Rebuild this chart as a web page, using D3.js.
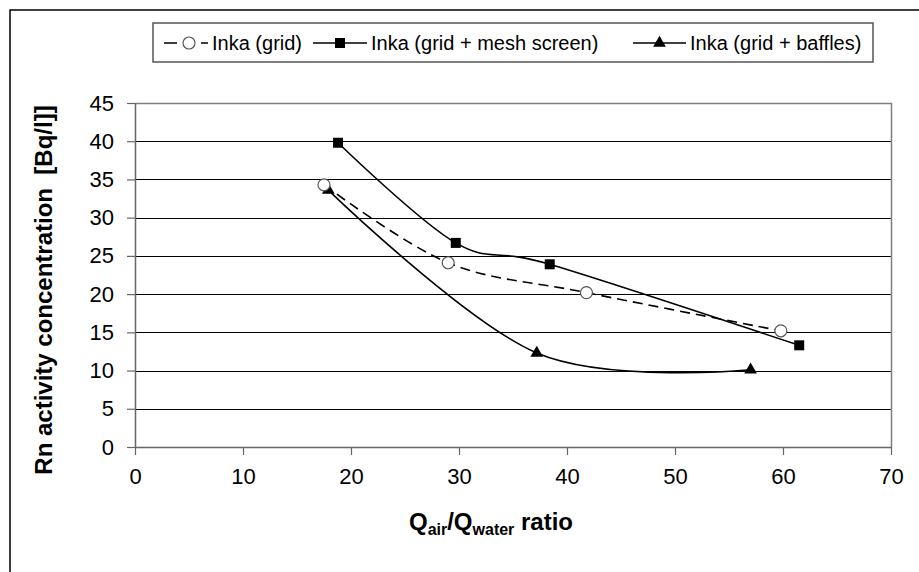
<!DOCTYPE html>
<html>
<head>
<meta charset="utf-8">
<script src="https://cdn.jsdelivr.net/npm/d3@7"></script>
<style>
  body { margin: 0; background: #fff; }
  text { font-family: "Liberation Sans", Arial, sans-serif; fill: #000; }
</style>
</head>
<body>
<svg id="chart" width="919" height="572"></svg>
<script>
// data
const xTicks = [0, 10, 20, 30, 40, 50, 60, 70];
const yTicks = [0, 5, 10, 15, 20, 25, 30, 35, 40, 45];

const gridX = [17.5, 29.0, 41.8, 59.8];
const gridY = [34.3, 24.1, 20.2, 15.2];

const meshX = [18.8, 29.7, 38.4, 61.5];
const meshY = [39.8, 26.7, 23.9, 13.3];

const bafflesX = [17.9, 37.2, 57.0];
const bafflesY = [33.6, 12.3, 10.1];

const seriesNames = ["Inka (grid)", "Inka (grid + mesh screen)", "Inka (grid + baffles)"];

const svg = d3.select("#chart");

// outer frame (left & top visible)
svg.append("rect")
  .attr("x", 10).attr("y", 10)
  .attr("width", 940).attr("height", 600)
  .attr("fill", "none")
  .attr("stroke", "#000")
  .attr("stroke-width", 1.5);

// plot area
const pLeft = 135, pRight = 891, pTop = 103, pBottom = 447;

const x = d3.scaleLinear().domain([0, 70]).range([pLeft, pRight]);
const y = d3.scaleLinear().domain([0, 45]).range([pBottom, pTop]);

// gridlines
svg.append("g")
  .selectAll("line")
  .data(yTicks.filter(d => d > 0 && d < 45))
  .join("line")
  .attr("x1", pLeft).attr("x2", pRight)
  .attr("y1", d => Math.round(y(d)) + 0.5)
  .attr("y2", d => Math.round(y(d)) + 0.5)
  .attr("stroke", "#000")
  .attr("stroke-width", 1);

// plot border (top, right)
svg.append("path")
  .attr("d", `M${pLeft},${pTop + 0.5}H${pRight + 0.5}V${pBottom}`)
  .attr("fill", "none")
  .attr("stroke", "#808080")
  .attr("stroke-width", 1.5);

// axes
const xAxis = d3.axisBottom(x).tickValues(xTicks).tickSize(8).tickPadding(13).tickSizeOuter(0);
const yAxis = d3.axisLeft(y).tickValues(yTicks).tickSize(8).tickPadding(13).tickSizeOuter(0);

const gx = svg.append("g").attr("transform", `translate(0,${pBottom})`).call(xAxis);
const gy = svg.append("g").attr("transform", `translate(${pLeft},0)`).call(yAxis);

[gx, gy].forEach(g => {
  g.select(".domain").attr("stroke", "#666").attr("stroke-width", 1.5);
  g.selectAll(".tick line").attr("stroke", "#666").attr("stroke-width", 1.2);
  g.selectAll(".tick text")
    .style("font-family", '"Liberation Sans", Arial, sans-serif')
    .style("font-size", "22px")
    .attr("fill", "#000");
});

// axis titles
svg.append("text")
  .attr("transform", "translate(52,290) rotate(-90)")
  .attr("text-anchor", "middle")
  .style("font-size", "24px")
  .style("font-weight", "bold")
  .text("Rn activity concentration\u00a0 [Bq/l]]");

const xt = svg.append("text")
  .attr("x", 491)
  .attr("y", 530)
  .attr("text-anchor", "middle")
  .style("font-size", "24px")
  .style("font-weight", "bold");
xt.append("tspan").text("Q");
xt.append("tspan").attr("dy", 5).style("font-size", "16px").text("air");
xt.append("tspan").attr("dy", -5).text("/Q");
xt.append("tspan").attr("dy", 5).style("font-size", "16px").text("water");
xt.append("tspan").attr("dy", -5).text(" ratio");

// lines (Excel style smoothing)
const line = d3.line()
  .x(d => x(d[0]))
  .y(d => y(d[1]))
  .curve(d3.curveCardinal.tension(0));

const gridPts = d3.zip(gridX, gridY);
const meshPts = d3.zip(meshX, meshY);
const bafflesPts = d3.zip(bafflesX, bafflesY);

svg.append("path").datum(bafflesPts).attr("d", line)
  .attr("fill", "none").attr("stroke", "#000").attr("stroke-width", 1.6);
svg.append("path").datum(meshPts).attr("d", line)
  .attr("fill", "none").attr("stroke", "#000").attr("stroke-width", 1.6);
svg.append("path").datum(gridPts).attr("d", line)
  .attr("fill", "none").attr("stroke", "#000").attr("stroke-width", 1.6)
  .attr("stroke-dasharray", "10,6");

// markers
const triangle = d3.symbol().type(d3.symbolTriangle).size(70);

function drawMarker(g, kind, cx, cy) {
  if (kind === "circle") {
    g.append("circle").attr("cx", cx).attr("cy", cy).attr("r", 6)
      .attr("fill", "#fff").attr("stroke", "#555").attr("stroke-width", 1.2);
  } else if (kind === "square") {
    g.append("rect").attr("x", cx - 5).attr("y", cy - 5)
      .attr("width", 10).attr("height", 10).attr("fill", "#000");
  } else {
    g.append("path").attr("d", triangle)
      .attr("transform", `translate(${cx},${cy})`).attr("fill", "#000");
  }
}

const markers = svg.append("g");
bafflesPts.forEach(d => drawMarker(markers, "triangle", x(d[0]), y(d[1])));
meshPts.forEach(d => drawMarker(markers, "square", x(d[0]), y(d[1])));
gridPts.forEach(d => drawMarker(markers, "circle", x(d[0]), y(d[1])));

// legend
const legend = svg.append("g");
legend.append("rect")
  .attr("x", 153).attr("y", 23)
  .attr("width", 720).attr("height", 39)
  .attr("fill", "#fff")
  .attr("stroke", "#555")
  .attr("stroke-width", 1.5);

const legendX = [164, 313, 633];
const symW = [46, 54, 53];
const kinds = ["circle", "square", "triangle"];
const ly = 43;

seriesNames.forEach((name, i) => {
  const sx = legendX[i];
  const ln = legend.append("line")
    .attr("x1", sx).attr("x2", sx + symW[i])
    .attr("y1", ly).attr("y2", ly)
    .attr("stroke", "#000").attr("stroke-width", 1.6);
  if (i === 0) ln.attr("stroke-dasharray", "13,24,7,100");
  drawMarker(legend, kinds[i], sx + (i === 0 ? 25 : symW[i] / 2), ly);
  legend.append("text")
    .attr("x", sx + symW[i] + (i === 0 ? 2 : 4))
    .attr("y", ly + 7)
    .style("font-size", "20px")
    .text(name);
});
</script>
</body>
</html>
